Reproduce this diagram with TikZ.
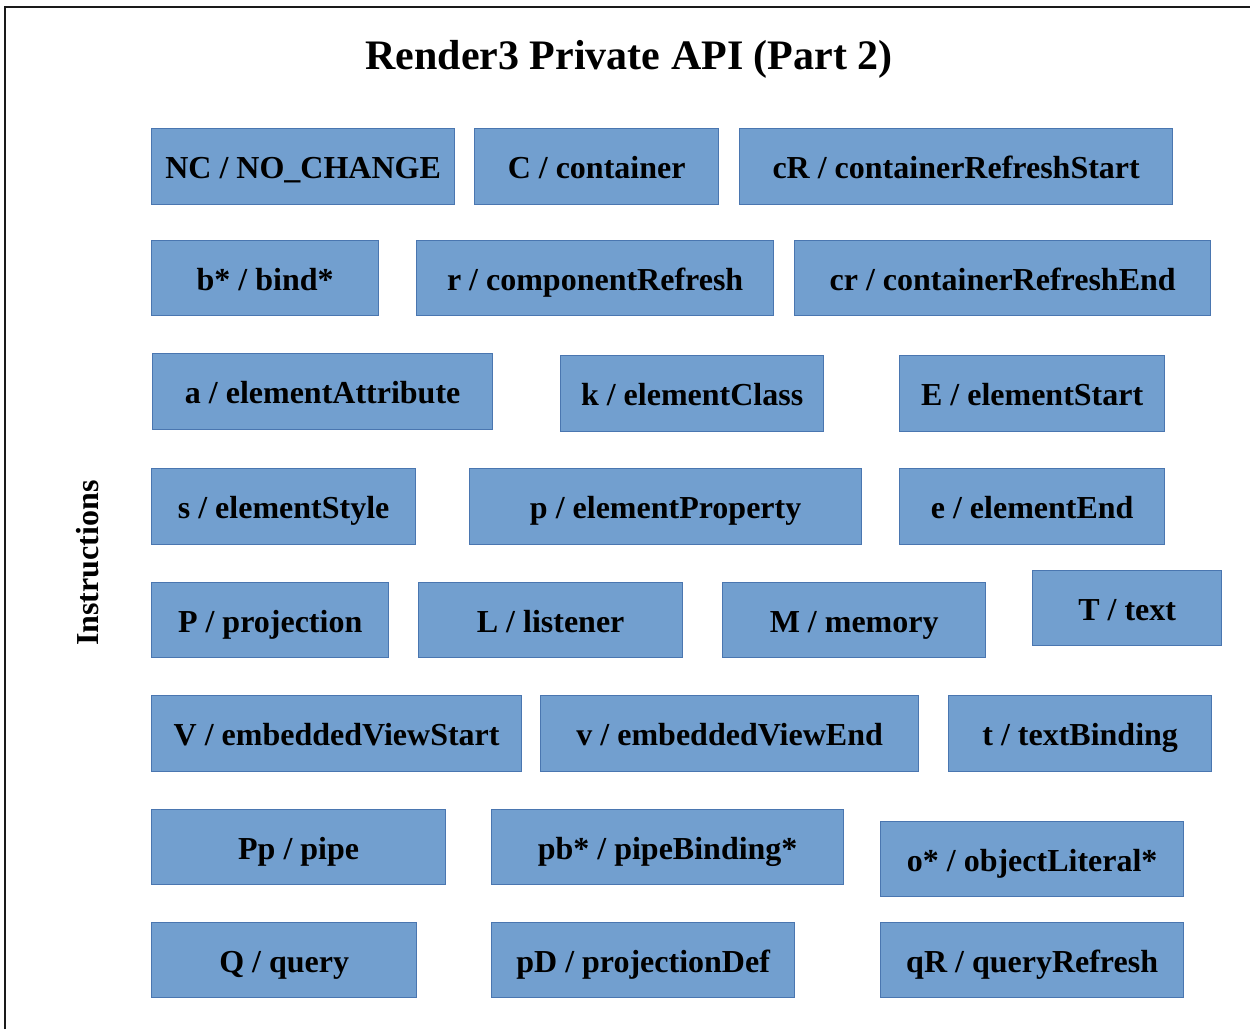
\documentclass[tikz,border=0pt]{standalone}
\usepackage{fontspec}
\setmainfont{Liberation Serif}
\definecolor{boxfill}{HTML}{729FCF}
\definecolor{boxline}{HTML}{4A76B0}
\definecolor{frameline}{HTML}{1A1A1A}
\tikzset{
  apibox/.style={draw=boxline, fill=boxfill, line width=1.3pt, inner sep=0pt,
    text height=30pt, text depth=6pt,
    anchor=north west, font=\fontsize{32}{38}\selectfont\bfseries},
  frame/.style={draw=frameline, line width=2pt}
}
\newcommand{\abox}[6]{% name, x1, y1, x2, y2, text
  \pgfmathsetmacro{\bw}{#4-#2}\pgfmathsetmacro{\bh}{#5-#3}%
  \node[apibox, minimum width=\bw pt, minimum height=\bh pt] (#1) at (#2,#3) {#6};}
\begin{document}
\begin{tikzpicture}[x=1pt,y=-1pt]
\useasboundingbox (0,0) rectangle (1250,1029);
\coordinate (ftl) at (5,7);
\coordinate (ftr) at (1250,7);
\coordinate (fbl) at (5,1029);
\draw[frame] (fbl) -- (ftl) -- (ftr);
\node[font=\fontsize{42}{48}\selectfont\bfseries] (title) at (629,59) {Render3 Private API (Part 2)};
\node[font=\fontsize{32}{38}\selectfont\bfseries, rotate=90] (instr) at (88,563) {Instructions};
% row 1
\abox{nc}{151}{128}{454}{204}{NC / NO\_CHANGE}
\abox{c}{474}{128}{718}{204}{C / container}
\abox{cR}{739}{128}{1172}{204}{cR / containerRefreshStart}
% row 2
\abox{bstar}{151}{240}{378}{315}{b* / bind*}
\abox{r}{416}{240}{773}{315}{r / componentRefresh}
\abox{cr}{794}{240}{1210}{315}{cr / containerRefreshEnd}
% row 3
\abox{a}{152}{353}{492}{429}{a / elementAttribute}
\abox{k}{560}{355}{823}{431}{k / elementClass}
\abox{E}{899}{355}{1164}{431}{E / elementStart}
% row 4
\abox{s}{151}{468}{415}{544}{s / elementStyle}
\abox{p}{469}{468}{861}{544}{p / elementProperty}
\abox{e}{899}{468}{1164}{544}{e / elementEnd}
% row 5
\abox{P}{151}{582}{388}{657}{P / projection}
\abox{L}{418}{582}{682}{657}{L / listener}
\abox{M}{722}{582}{985}{657}{M / memory}
\abox{T}{1032}{570}{1221}{645}{T / text}
% row 6
\abox{V}{151}{695}{521}{771}{V / embeddedViewStart}
\abox{v}{540}{695}{918}{771}{v / embeddedViewEnd}
\abox{t}{948}{695}{1211}{771}{t / textBinding}
% row 7
\abox{Pp}{151}{809}{445}{884}{Pp / pipe}
\abox{pb}{491}{809}{843}{884}{pb* / pipeBinding*}
\abox{o}{880}{821}{1183}{896}{o* / objectLiteral*}
% row 8
\abox{Q}{151}{922}{416}{997}{Q / query}
\abox{pD}{491}{922}{794}{997}{pD / projectionDef}
\abox{qR}{880}{922}{1183}{997}{qR / queryRefresh}
\end{tikzpicture}
\end{document}
